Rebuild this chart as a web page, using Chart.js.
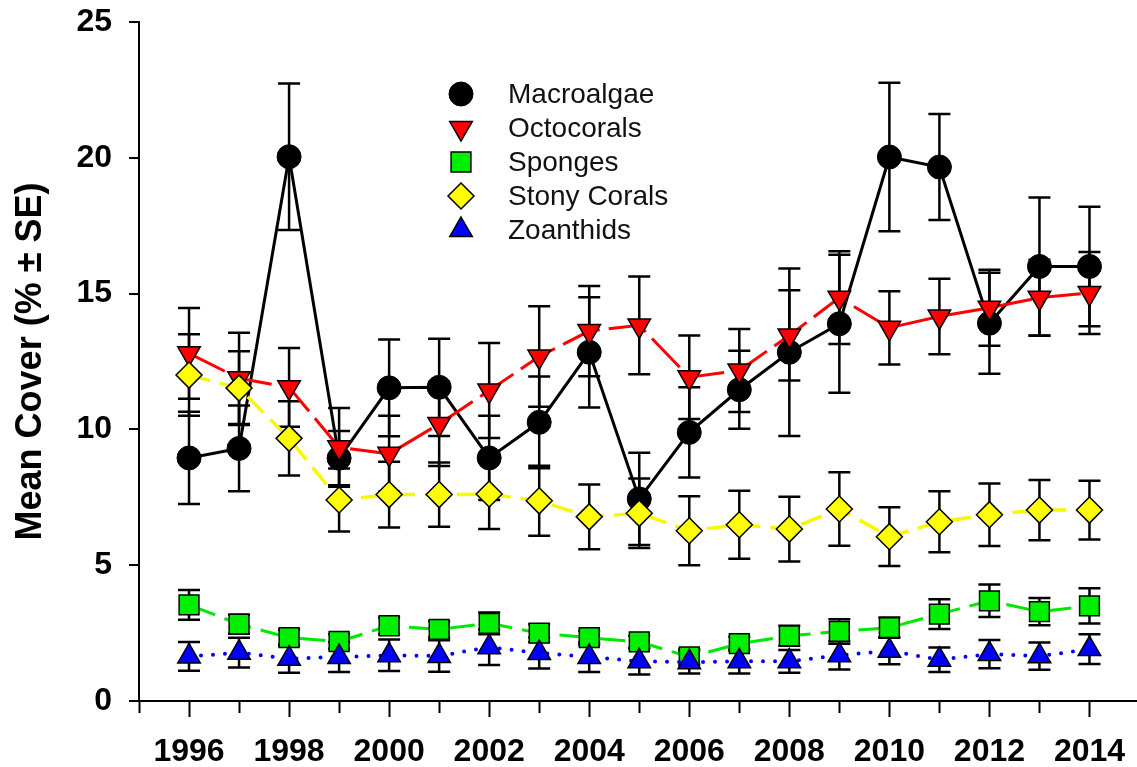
<!DOCTYPE html>
<html>
<head>
<meta charset="utf-8">
<title>Mean Cover</title>
<script src="https://cdn.jsdelivr.net/npm/chart.js@4.4.1/dist/chart.umd.min.js"></script>
<style>
  html, body { margin: 0; padding: 0; background: #fff; }
  #wrap { width: 1137px; height: 767px; }
</style>
</head>
<body>
<div id="wrap"><canvas id="chart" width="1137" height="767"></canvas></div>
<script>
// ── Dati ───────────────────────────────────
const years = [1996, 1997, 1998, 1999, 2000, 2001, 2002, 2003, 2004, 2005, 2006, 2007, 2008, 2009, 2010, 2011, 2012, 2013, 2014];
const tickYears = [1995, 1996, 1997, 1998, 1999, 2000, 2001, 2002, 2003, 2004, 2005, 2006, 2007, 2008, 2009, 2010, 2011, 2012, 2013, 2014];
const yTicks = [0, 5, 10, 15, 20, 25];

const macroalgae   = [8.95, 9.30, 20.04, 8.94, 11.53, 11.55, 8.95, 10.26, 12.84, 7.44, 9.89, 11.46, 12.84, 13.89, 20.03, 19.66, 13.91, 16.00, 16.00];
const macroalgaeSE = [1.70, 1.58, 2.70, 1.00, 1.78, 1.79, 1.55, 1.69, 2.03, 1.70, 1.66, 1.44, 3.08, 2.54, 2.73, 1.95, 1.86, 2.54, 2.20];

const octocorals   = [12.80, 11.88, 11.55, 9.34, 9.10, 10.20, 11.43, 12.68, 13.62, 13.83, 11.92, 12.17, 13.46, 14.85, 13.74, 14.16, 14.48, 14.85, 15.02];
const octocoralsSE = [1.67, 1.68, 1.45, 1.45, 1.40, 1.55, 1.75, 1.85, 1.66, 1.80, 1.54, 1.53, 1.66, 1.71, 1.35, 1.39, 1.40, 1.40, 1.51];

const sponges   = [3.54, 2.83, 2.33, 2.19, 2.77, 2.64, 2.86, 2.50, 2.33, 2.18, 1.62, 2.11, 2.40, 2.56, 2.70, 3.20, 3.69, 3.29, 3.50];
const spongesSE = [0.55, 0.35, 0.30, 0.27, 0.30, 0.30, 0.40, 0.33, 0.25, 0.22, 0.28, 0.26, 0.37, 0.45, 0.37, 0.55, 0.60, 0.50, 0.65];

const stonyCorals   = [12.00, 11.52, 9.67, 7.40, 7.60, 7.60, 7.62, 7.37, 6.78, 6.91, 6.27, 6.49, 6.33, 7.07, 6.05, 6.60, 6.86, 7.03, 7.03];
const stonyCoralsSE = [1.50, 1.36, 1.37, 1.16, 1.21, 1.18, 1.29, 1.29, 1.19, 1.28, 1.27, 1.25, 1.19, 1.35, 1.08, 1.12, 1.15, 1.11, 1.08];

const zoanthids   = [1.64, 1.78, 1.56, 1.62, 1.68, 1.66, 1.98, 1.77, 1.62, 1.46, 1.43, 1.46, 1.46, 1.68, 1.85, 1.52, 1.73, 1.65, 1.91];
const zoanthidsSE = [0.53, 0.55, 0.52, 0.55, 0.58, 0.58, 0.65, 0.57, 0.55, 0.48, 0.42, 0.45, 0.42, 0.52, 0.50, 0.45, 0.52, 0.50, 0.55];

const FONT = "'Liberation Sans', Arial, sans-serif";

function points(values) {
  return years.map((yr, i) => ({ x: yr, y: values[i] }));
}

// ── Barre d'errore (sotto linee e marker) ──
const errorBars = {
  id: 'errorBars',
  beforeDatasetsDraw(chart) {
    const { ctx, scales: { x, y } } = chart;
    ctx.save();
    ctx.strokeStyle = '#000';
    ctx.lineWidth = 2.5;
    chart.data.datasets.forEach(ds => {
      ds.data.forEach((p, i) => {
        const se = ds.errors[i];
        const px = x.getPixelForValue(p.x);
        const top = y.getPixelForValue(p.y + se);
        const bot = y.getPixelForValue(p.y - se);
        ctx.beginPath();
        ctx.moveTo(px, top); ctx.lineTo(px, bot);
        ctx.moveTo(px - 11, top); ctx.lineTo(px + 11, top);
        ctx.moveTo(px - 11, bot); ctx.lineTo(px + 11, bot);
        ctx.stroke();
      });
    });
    ctx.restore();
  }
};

// ── Tacche asse X: lunghe sugli anni pari ──
const xTicks = {
  id: 'xTicks',
  afterDraw(chart) {
    const { ctx, scales: { x } } = chart;
    ctx.save();
    ctx.strokeStyle = '#000';
    ctx.lineWidth = 2;
    tickYears.forEach(yr => {
      const px = Math.round(x.getPixelForValue(yr)) + 0.5;
      const len = yr % 2 === 0 ? 16 : 12;
      ctx.beginPath();
      ctx.moveTo(px, x.top);
      ctx.lineTo(px, x.top + len);
      ctx.stroke();
    });
    ctx.restore();
  }
};

// ── Legenda interna, verticale ─────────────
const innerLegend = {
  id: 'innerLegend',
  afterDraw(chart) {
    const ctx = chart.ctx;
    ctx.save();
    chart.data.datasets.forEach((ds, i) => {
      const cy = 94 + i * 34;
      ctx.fillStyle = ds.pointBackgroundColor;
      ctx.strokeStyle = ds.pointBorderColor;
      ctx.lineWidth = ds.pointBorderWidth;
      Chart.helpers.drawPoint(ctx, {
        pointStyle: ds.pointStyle,
        rotation: ds.pointRotation || 0,
        radius: ds.pointRadius,
        borderWidth: ds.pointBorderWidth
      }, 461, cy);
      ctx.fillStyle = '#111';
      ctx.font = `28px ${FONT}`;
      ctx.textBaseline = 'middle';
      ctx.textAlign = 'left';
      ctx.fillText(ds.label, 508, cy + 1);
    });
    ctx.restore();
  }
};

Chart.defaults.color = '#000';
Chart.defaults.font.family = FONT;

new Chart(document.getElementById('chart'), {
  type: 'line',
  data: {
    datasets: [
      {
        label: 'Macroalgae',
        data: points(macroalgae),
        errors: macroalgaeSE,
        borderColor: '#000',
        borderWidth: 3,
        pointStyle: 'circle',
        pointRadius: 12,
        pointBackgroundColor: '#000',
        pointBorderColor: '#000',
        pointBorderWidth: 1,
        order: 5
      },
      {
        label: 'Octocorals',
        data: points(octocorals),
        errors: octocoralsSE,
        borderColor: '#ff0000',
        borderWidth: 3,
        borderDash: [40, 9],
        pointStyle: 'triangle',
        pointRotation: 180,
        pointRadius: 13,
        pointBackgroundColor: '#ff0000',
        pointBorderColor: '#000',
        pointBorderWidth: 1.5,
        order: 4
      },
      {
        label: 'Sponges',
        data: points(sponges),
        errors: spongesSE,
        borderColor: '#00e800',
        borderWidth: 3,
        borderDash: [28, 10],
        pointStyle: 'rect',
        pointRadius: 14,
        pointBackgroundColor: '#00ee00',
        pointBorderColor: '#000',
        pointBorderWidth: 1.5,
        order: 3
      },
      {
        label: 'Stony Corals',
        data: points(stonyCorals),
        errors: stonyCoralsSE,
        borderColor: '#f8f800',
        borderWidth: 3.5,
        borderDash: [22, 10],
        pointStyle: 'rectRot',
        pointRadius: 13,
        pointBackgroundColor: '#ffff00',
        pointBorderColor: '#000',
        pointBorderWidth: 1.5,
        order: 2
      },
      {
        label: 'Zoanthids',
        data: points(zoanthids),
        errors: zoanthidsSE,
        borderColor: '#0000ff',
        borderWidth: 4,
        borderDash: [0, 12],
        borderCapStyle: 'round',
        pointStyle: 'triangle',
        pointRadius: 13,
        pointBackgroundColor: '#0000ff',
        pointBorderColor: '#000',
        pointBorderWidth: 1.5,
        order: 1
      }
    ]
  },
  options: {
    responsive: false,
    animation: false,
    events: [],
    layout: { autoPadding: false, padding: { top: 22, left: 0, right: 0, bottom: 0 } },
    elements: { line: { tension: 0 } },
    plugins: {
      legend: { display: false },
      tooltip: { enabled: false }
    },
    scales: {
      x: {
        type: 'linear',
        min: 1995,
        max: 2014.95,
        afterBuildTicks: scale => { scale.ticks = tickYears.map(v => ({ value: v })); },
        afterFit: scale => {
          scale.height = 66;
          scale.paddingLeft = 0;
          scale.paddingRight = 0;
        },
        ticks: {
          autoSkip: false,
          maxRotation: 0,
          padding: 32,
          font: { size: 32, weight: 'bold' },
          callback: v => (v % 2 === 0 ? String(v) : '')
        },
        grid: { display: false, drawTicks: false },
        border: { display: true, color: '#000', width: 2 }
      },
      y: {
        min: 0,
        max: 25,
        afterBuildTicks: scale => { scale.ticks = yTicks.map(v => ({ value: v })); },
        afterFit: scale => {
          scale.width = 139;
          scale.paddingTop = 0;
          scale.paddingBottom = 0;
        },
        ticks: {
          padding: 17,
          font: { size: 32, weight: 'bold' }
        },
        grid: { drawOnChartArea: false, tickLength: 10, color: '#000', lineWidth: 2 },
        border: { display: true, color: '#000', width: 2 },
        title: {
          display: true,
          text: 'Mean Cover (% ± SE)',
          font: { size: 36, weight: 'bold' },
          padding: { top: 9, bottom: 0 }
        }
      }
    }
  },
  plugins: [errorBars, xTicks, innerLegend]
});
</script>
</body>
</html>
